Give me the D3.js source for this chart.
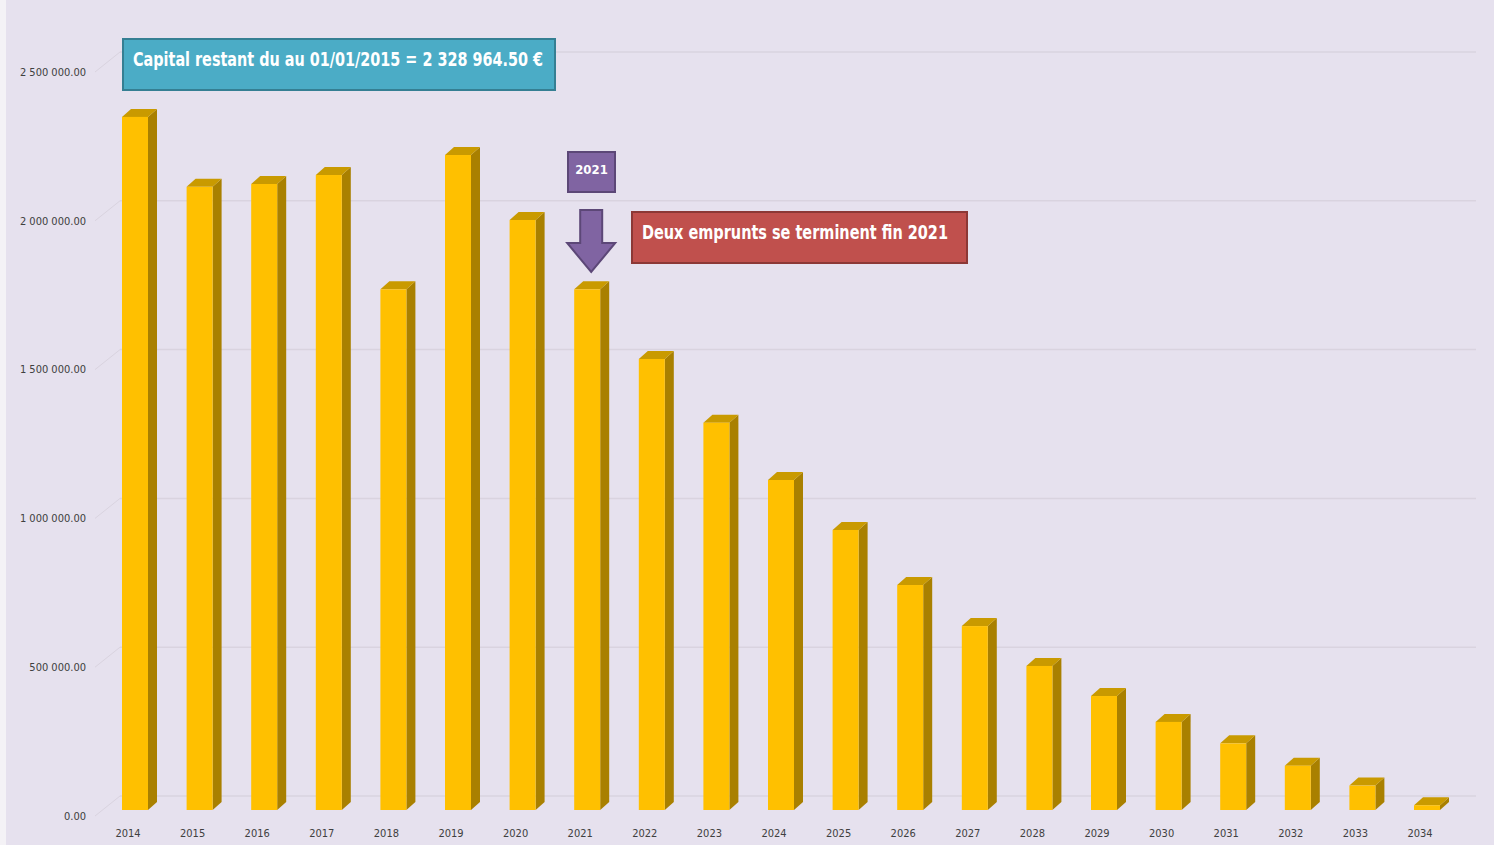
<!DOCTYPE html>
<html>
<head>
<meta charset="utf-8">
<script src="https://cdn.jsdelivr.net/npm/d3@7"></script>
<style>
	html, body { margin: 0; padding: 0; background: #f4f2f6; }
	svg { display: block; }
	.tick-label { font-family: "Liberation Sans Narrow", "DejaVu Sans Condensed", "Liberation Sans", sans-serif; font-size: 11px; fill: #404040; }
	.box-text { font-family: "Liberation Sans Narrow", "DejaVu Sans Condensed", "Open Sans", sans-serif; font-weight: bold; fill: #fff; }
</style>
</head>
<body>
<div id="chart"></div>
<script>
// years on the x axis
const years = ["2014", "2015", "2016", "2017", "2018", "2019", "2020", "2021", "2022", "2023", "2024",
	"2025", "2026", "2027", "2028", "2029", "2030", "2031", "2032", "2033", "2034"]

// capital restant du (EUR)
const capital = [2328964.5, 2094000, 2103500, 2133700, 1749700, 2200900, 1982500, 1749700, 1515500,
	1301400, 1108900, 940900, 756000, 618000, 484000, 383000, 296000, 224000, 149000, 82000, 16000]

const yTicks = [0, 500000, 1000000, 1500000, 2000000, 2500000]

const noteCapital = "Capital restant du au 01/01/2015 = 2 328 964.50 €"
const noteYear = "2021"
const noteEnd = "Deux emprunts se terminent fin 2021"

const W = 1494, H = 845

const svg = d3.select("#chart").append("svg")
	.attr("width", W)
	.attr("height", H)

// lavender plot background (thin lighter strip on the far left)
svg.append("rect")
	.attr("x", 6).attr("y", 0)
	.attr("width", W - 6).attr("height", H)
	.attr("fill", "#e6e1ee")

// front plane scale (labels), back wall is shifted by depth
const y = d3.scaleLinear().domain([0, 2500000]).range([816, 72])
const x = d3.scalePoint().domain(years).range([128, 1420])

const wall = { dx: 25, dy: -20 }
const bar = { dx: -6, dy: -6, w: 26, depthX: 9, depthY: -8 }

// gridlines on back wall + little perspective connectors
const grid = svg.append("g")
grid.selectAll(".grid")
	.data(yTicks)
	.join("line")
	.attr("x1", 95 + wall.dx)
	.attr("x2", 1476)
	.attr("y1", (d) => y(d) + wall.dy)
	.attr("y2", (d) => y(d) + wall.dy)
	.attr("stroke", "#d9d3df")
	.attr("stroke-width", 1.5)

grid.selectAll(".diag")
	.data(yTicks)
	.join("line")
	.attr("x1", 95)
	.attr("x2", 95 + wall.dx)
	.attr("y1", (d) => y(d))
	.attr("y2", (d) => y(d) + wall.dy)
	.attr("stroke", "#d9d3df")
	.attr("stroke-width", 1)

// y labels
const fmt = (v) => {
	const s = d3.format(",.2f")(v)
	return s.replace(/,/g, " ")
}
svg.append("g").selectAll("text")
	.data(yTicks)
	.join("text")
	.attr("class", "tick-label")
	.attr("x", 86)
	.attr("y", (d) => y(d))
	.attr("dy", "0.35em")
	.attr("text-anchor", "end")
	.text(fmt)

// x labels
svg.append("g").selectAll("text")
	.data(years)
	.join("text")
	.attr("class", "tick-label")
	.attr("x", (d) => x(d))
	.attr("y", 837)
	.attr("text-anchor", "middle")
	.text((d) => d)

// 3D bars
const data = years.map((yr, i) => ({ yr, v: capital[i] }))
const g = svg.append("g").selectAll("g")
	.data(data)
	.join("g")

const x0 = (d) => x(d.yr) + bar.dx
const yTop = (d) => y(d.v) + bar.dy
const yBot = y(0) + bar.dy

// side face
g.append("path")
	.attr("fill", "#a98000")
	.attr("d", (d) => {
		const xr = x0(d) + bar.w
		return `M${xr},${yTop(d)} L${xr + bar.depthX},${yTop(d) + bar.depthY} L${xr + bar.depthX},${yBot + bar.depthY} L${xr},${yBot} Z`
	})

// top face
g.append("path")
	.attr("fill", "#c99a00")
	.attr("d", (d) => {
		const xl = x0(d), xr = x0(d) + bar.w, t = yTop(d)
		return `M${xl},${t} L${xl + bar.depthX},${t + bar.depthY} L${xr + bar.depthX},${t + bar.depthY} L${xr},${t} Z`
	})

// front face
g.append("rect")
	.attr("fill", "#ffc000")
	.attr("x", x0)
	.attr("y", yTop)
	.attr("width", bar.w)
	.attr("height", (d) => Math.max(0, yBot - yTop(d)))

// annotation: capital box
const ann = svg.append("g")
ann.append("rect")
	.attr("x", 123).attr("y", 39)
	.attr("width", 432).attr("height", 51)
	.attr("fill", "#4bacc6")
	.attr("stroke", "#357f93")
	.attr("stroke-width", 2)
ann.append("text")
	.attr("class", "box-text")
	.attr("x", 133).attr("y", 59)
	.attr("dy", "0.35em")
	.attr("font-size", 20)
	.attr("textLength", 410)
	.attr("lengthAdjust", "spacingAndGlyphs")
	.text(noteCapital)

// annotation: 2021 label + arrow
ann.append("rect")
	.attr("x", 568).attr("y", 152)
	.attr("width", 47).attr("height", 40)
	.attr("fill", "#8064a2")
	.attr("stroke", "#5c4777")
	.attr("stroke-width", 2)
ann.append("text")
	.attr("class", "box-text")
	.attr("x", 591.5).attr("y", 169)
	.attr("dy", "0.35em")
	.attr("text-anchor", "middle")
	.attr("font-size", 13)
	.text(noteYear)

const ax = x("2021") + 11
ann.append("path")
	.attr("d", `M${ax - 11},210 L${ax + 11},210 L${ax + 11},243 L${ax + 24},243 L${ax},272 L${ax - 24},243 L${ax - 11},243 Z`)
	.attr("fill", "#8064a2")
	.attr("stroke", "#5c4777")
	.attr("stroke-width", 2)

// annotation: end of two loans
ann.append("rect")
	.attr("x", 632).attr("y", 212)
	.attr("width", 335).attr("height", 51)
	.attr("fill", "#c0504d")
	.attr("stroke", "#8c3836")
	.attr("stroke-width", 2)
ann.append("text")
	.attr("class", "box-text")
	.attr("x", 642).attr("y", 232)
	.attr("dy", "0.35em")
	.attr("font-size", 20)
	.attr("textLength", 306)
	.attr("lengthAdjust", "spacingAndGlyphs")
	.text(noteEnd)
</script>
</body>
</html>
